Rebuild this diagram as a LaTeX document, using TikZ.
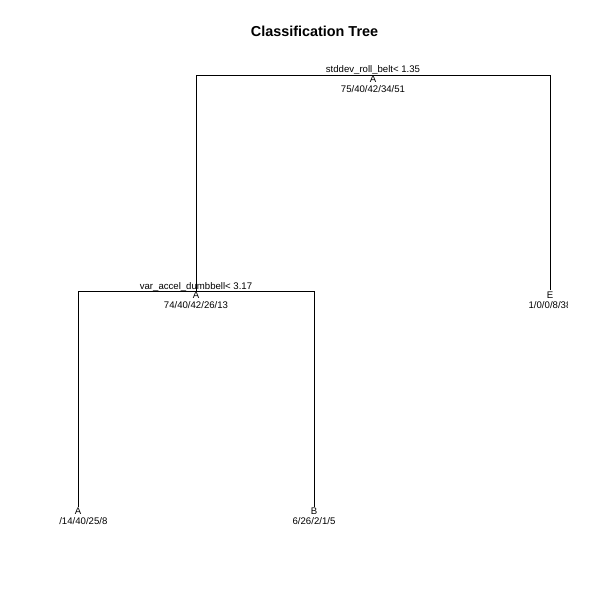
\documentclass[tikz,border=0pt]{standalone}
\usepackage{fontspec}
\setmainfont{Liberation Sans}
\begin{document}
\begin{tikzpicture}[x=1pt,y=-1pt,
  edge/.style={line width=0.8pt,black},
  lbl/.style={inner sep=0pt,font=\fontsize{9.6}{10}\selectfont},
  splitlbl/.style={lbl,anchor=base},
  ttl/.style={inner sep=0pt,font=\fontsize{14.4}{16}\selectfont\bfseries}]
\useasboundingbox (0,0) rectangle (600,600);
\node[ttl] (title) at (314.5,31) {Classification Tree};
\begin{scope}
\clip (59,59) rectangle (567,527);
% node points
\coordinate (root) at (373,75.5);
\coordinate (n2) at (196,291.7);
\coordinate (n3) at (550,290);
\coordinate (n4) at (78,507);
\coordinate (n5) at (314,507);
% branches
\draw[edge] (n2) |- (root) -| (n3);
\draw[edge] (n4) |- (n2) -| (n5);
% labels
\node[splitlbl] (s1) at (373,72.5) {stddev\_roll\_belt< 1.35};
\node[lbl] (c1) at (373,79) {A};
\node[lbl] (k1) at (373,89) {75/40/42/34/51};
\node[splitlbl] (s2) at (196,289) {var\_accel\_dumbbell< 3.17};
\node[lbl] (c2) at (196,295.5) {A};
\node[lbl] (k2) at (196,305.5) {74/40/42/26/13};
\node[lbl] (c3) at (550,295.5) {E};
\node[lbl] (k3) at (550,305.5) {1/0/0/8/38};
\node[lbl] (c4) at (78,511.5) {A};
\node[lbl] (k4) at (78,521.5) {68/14/40/25/8};
\node[lbl] (c5) at (314,511.5) {B};
\node[lbl] (k5) at (314,521.5) {6/26/2/1/5};
\end{scope}
\end{tikzpicture}
\end{document}
